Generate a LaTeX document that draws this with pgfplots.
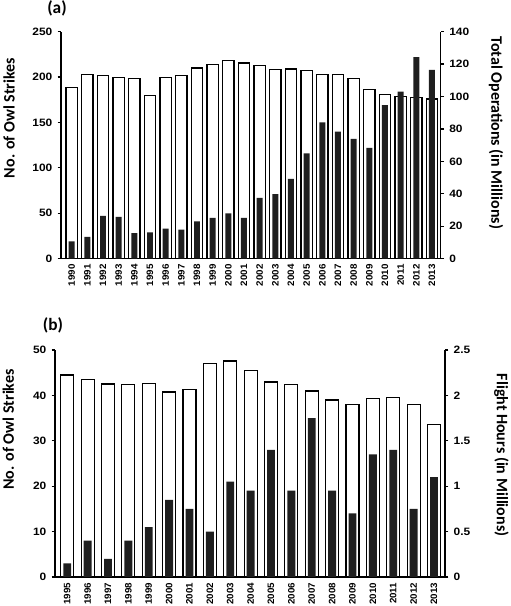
\documentclass[border=0pt]{standalone}
\usepackage{fontspec}
\setmainfont{Liberation Sans}
\newfontfamily\carlito{Carlito}
\usepackage{pgfplots}
\pgfplotsset{compat=1.18}
\pgfplotsset{
  common/.style={
    scale only axis,
    ymin=0,
    tick align=outside,
    major tick length=2.5pt,
    axis line style={line width=1pt},
    every tick/.style={line width=0.9pt, black},
    y tick label style={font=\fontsize{8}{9}\selectfont\bfseries, xscale=1.12},
    /pgf/number format/assume math mode=true,
    xtick=data,
    x tick label style={rotate=90, xscale=1.05, anchor=east, inner sep=1.5pt, font=\fontsize{7}{8}\selectfont\bfseries, /pgf/number format/1000 sep={}},
    xtick style={draw=none},
    ylabel style={font=\carlito\fontsize{12}{14}\selectfont\bfseries},
  },
  whitebar/.style={ybar, fill=white, draw=black, line width=0.85pt},
  blackbar/.style={ybar, fill=black!88, draw=none},
}
\begin{document}
\begin{tikzpicture}
\path[use as bounding box] (0pt,0pt) rectangle (382.5pt,454.5pt);
% ---------------- panel (a) ----------------
\begin{axis}[common, at={(45.75pt,260.5pt)}, anchor=south west,
  width=284.8pt, height=170.25pt,
  xmin=1989.32, xmax=2013.56, ymax=140, ytick={0,20,...,140},
  axis y line*=right, axis x line=none,
  ylabel={Total Operations (in Millions)},
  ylabel style={at={(axis description cs:1.146,0.554)}, anchor=center, rotate=180}]
\addplot[whitebar, bar width=0.72] coordinates {
(1990,105.7) (1991,113.8) (1992,112.9) (1993,111.5) (1994,111.0) (1995,100.4)
(1996,111.7) (1997,112.7) (1998,117.6) (1999,119.9) (2000,122.2) (2001,120.7)
(2002,119.1) (2003,116.8) (2004,117.0) (2005,115.8) (2006,113.8) (2007,113.8)
(2008,110.9) (2009,104.1) (2010,101.4) (2011,99.9) (2012,99.3) (2013,98.5)};
\end{axis}
\begin{axis}[common, at={(45.75pt,260.5pt)}, anchor=south west,
  width=284.8pt, height=170.25pt,
  xmin=1989.32, xmax=2013.56, ymax=250, ytick={0,50,...,250},
  axis y line*=left, axis x line*=bottom,
  ylabel={No. of Owl Strikes},
  ylabel style={at={(axis description cs:-0.137,0.62)}, anchor=center}]
\addplot[blackbar, bar width=0.38] coordinates {
(1990,19) (1991,24) (1992,47) (1993,46) (1994,28) (1995,29)
(1996,33) (1997,32) (1998,41) (1999,45) (2000,50) (2001,45)
(2002,67) (2003,71) (2004,88) (2005,116) (2006,150) (2007,140)
(2008,132) (2009,122) (2010,169) (2011,184) (2012,222) (2013,208)};
\end{axis}
\node[font=\carlito\fontsize{13}{15}\selectfont\bfseries] at (42.75pt,448pt) {(a)};
% ---------------- panel (b) ----------------
\begin{axis}[common, at={(41.25pt,21.75pt)}, anchor=south west,
  width=292.5pt, height=170.25pt,
  xmin=1994.4, xmax=2013.54, ymax=2.5, ytick={0,0.5,...,2.5},
  axis y line*=right, axis x line=none,
  ylabel={Flight Hours (in Millions)},
  ylabel style={at={(axis description cs:1.145,0.537)}, anchor=center, rotate=180}]
\addplot[whitebar, bar width=0.64] coordinates {
(1995,2.225) (1996,2.177) (1997,2.126) (1998,2.118) (1999,2.133) (2000,2.037)
(2001,2.067) (2002,2.353) (2003,2.379) (2004,2.276) (2005,2.148) (2006,2.118)
(2007,2.048) (2008,1.949) (2009,1.902) (2010,1.964) (2011,1.975) (2012,1.902)
(2013,1.68)};
\end{axis}
\begin{axis}[common, at={(41.25pt,21.75pt)}, anchor=south west,
  width=292.5pt, height=170.25pt,
  xmin=1994.4, xmax=2013.54, ymax=50, ytick={0,10,...,50},
  axis y line*=left, axis x line*=bottom,
  ylabel={No. of Owl Strikes},
  ylabel style={at={(axis description cs:-0.12,0.65)}, anchor=center}]
\addplot[blackbar, bar width=0.39] coordinates {
(1995,3) (1996,8) (1997,4) (1998,8) (1999,11) (2000,17)
(2001,15) (2002,10) (2003,21) (2004,19) (2005,28) (2006,19)
(2007,35) (2008,19) (2009,14) (2010,27) (2011,28) (2012,15)
(2013,22)};
\end{axis}
\node[font=\carlito\fontsize{13}{15}\selectfont\bfseries] at (39.75pt,210.5pt) {(b)};
\end{tikzpicture}
\end{document}
